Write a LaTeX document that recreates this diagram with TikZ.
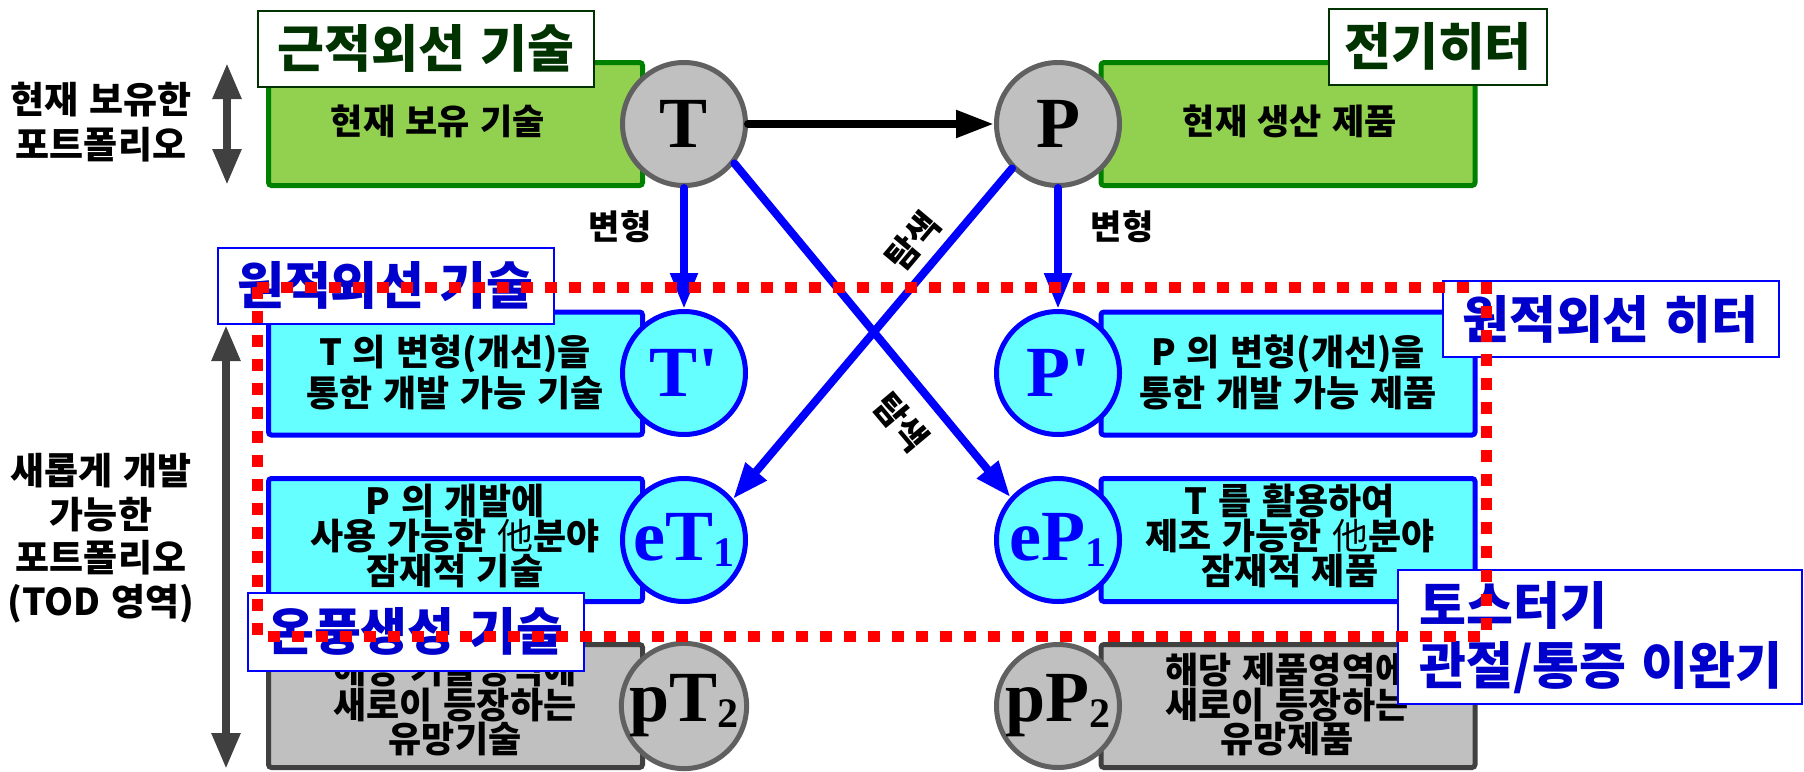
\documentclass[tikz,border=0pt]{standalone}
\usepackage{fontspec}
\usetikzlibrary{arrows.meta}
\setmainfont{Liberation Serif}
\newfontfamily\kr{Noto Sans CJK KR}[WordSpace=1.3]
\newfontfamily\tnr{Liberation Serif}

\definecolor{leaf}{HTML}{92D050}
\definecolor{leafedge}{HTML}{008000}
\definecolor{aqua}{HTML}{66FFFF}
\definecolor{silver}{HTML}{C0C0C0}
\definecolor{ringgray}{HTML}{606060}
\definecolor{boxgray}{HTML}{404040}
\definecolor{deepgreen}{HTML}{003300}
\definecolor{labelblue}{HTML}{0000CC}

\newcommand{\thin}{{\mdseries 他}}

\tikzset{
  panel/.style={line width=2.5pt, rounded corners=1.5pt, minimum width=187pt,
    minimum height=61.5pt, inner sep=0pt},
  gbox/.style={panel, draw=leafedge, fill=leaf},
  cbox/.style={panel, draw=blue, fill=aqua},
  sbox/.style={panel, draw=boxgray, fill=silver},
  ring/.style={circle, line width=2.5pt, minimum size=61.5pt, inner sep=0pt,
    font=\tnr\bfseries\fontsize{36}{36}\selectfont},
  gring/.style={ring, draw=ringgray, fill=silver, text=black},
  cring/.style={ring, draw=blue, fill=aqua, text=blue},
  headtag/.style={draw=deepgreen, fill=white, line width=1pt, text=deepgreen,
    minimum height=38pt, inner sep=0pt, font=\kr\bfseries\fontsize{25.5}{25.5}\selectfont},
  bluetag/.style={draw=blue, fill=white, line width=1pt, text=labelblue,
    minimum height=38pt, inner sep=0pt, font=\kr\bfseries\fontsize{25.5}{25.5}\selectfont},
  body/.style={align=center, inner sep=0pt, font=\kr\bfseries\fontsize{18}{20.5}\selectfont},
  body3/.style={align=center, inner sep=0pt, font=\kr\bfseries\fontsize{18}{17.5}\selectfont},
  body4/.style={align=center, inner sep=0pt, font=\kr\bfseries\fontsize{18}{17.25}\selectfont},
  side/.style={align=center, inner sep=0pt, font=\kr\bfseries\fontsize{18.5}{22.5}\selectfont},
  note/.style={inner sep=0pt, font=\kr\bfseries\fontsize{17}{17}\selectfont},
  flow/.style={draw=blue, line width=4pt, line cap=round,
    -{Triangle[length=18pt,width=13pt]}},
  push/.style={draw=black, line width=4pt, line cap=round,
    -{Triangle[length=19pt,width=13pt]}},
  span/.style={draw=boxgray, line width=4.2pt,
    {Triangle[length=18pt,width=13.5pt]}-{Triangle[length=18pt,width=13.5pt]}},
  reddots/.style={draw=red, line width=5.5pt, dash pattern=on 6pt off 6pt}
}

\begin{document}
\begin{tikzpicture}[x=0.5pt,y=-0.5pt]
\useasboundingbox (0,0) rectangle (1804,771);

% portfolio rows: boxes
\node[gbox] (bT)  at (455.5,124) {};
\node[gbox] (bP)  at (1288,124) {};
\node[cbox] (bTp) at (455.5,373.5) {};
\node[cbox] (bPp) at (1288,373.5) {};
\node[cbox] (beT) at (455.5,540) {};
\node[cbox] (beP) at (1288,540) {};
\node[sbox] (bpT) at (455.5,706) {};
\node[sbox] (bpP) at (1288,706) {};

% headings of the top row
\node[headtag, minimum width=168pt] (hT) at (426,48.5) {근적외선 기술};
\node[headtag, minimum width=109pt] (hP) at (1438,46.5) {전기히터};

% texts inside the boxes
\node[body, font=\kr\bfseries\fontsize{17.5}{17.5}\selectfont] (tT)  at (438,121) {현재 보유 기술};
\node[body, font=\kr\bfseries\fontsize{17.5}{17.5}\selectfont] (tP)  at (1290,121) {현재 생산 제품};
\node[body] (tTp) at (455,372) {T 의 변형(개선)을\\통한 개발 가능 기술};
\node[body] (tPp) at (1288,372) {P 의 변형(개선)을\\통한 개발 가능 제품};
\node[body3] (teT) at (455,536) {P 의 개발에\\사용 가능한 \thin 분야\\잠재적 기술};
\node[body3] (teP) at (1290,536) {T 를 활용하여\\제조 가능한 \thin 분야\\잠재적 제품};
\node[body4] (tpT) at (455,705) {해당 기술영역에\\새로이 등장하는\\유망기술};
\node[body4] (tpP) at (1287,705) {해당 제품영역에\\새로이 등장하는\\유망제품};

% circles
\node[gring] (T)   at (684,124) {T};
\node[gring] (P)   at (1058,124) {P};
\node[cring] (Tp)  at (684,373) {T\textquotesingle};
\node[cring] (Pp)  at (1058,373) {P\textquotesingle};
\node[cring] (eT1) at (684,540) {eT\raisebox{-3pt}{\fontsize{21}{21}\selectfont 1}};
\node[cring] (eP1) at (1058,540) {eP\raisebox{-3pt}{\fontsize{21}{21}\selectfont 1}};
\node[gring] (pT2) at (684,706) {pT\raisebox{-3pt}{\fontsize{21}{21}\selectfont 2}};
\node[gring] (pP2) at (1058,706) {pP\raisebox{-3pt}{\fontsize{21}{21}\selectfont 2}};

% connectors
\draw[push] (T.east) -- (P.west);
\draw[flow] (T.south) -- (Tp.north);
\draw[flow] (P.south) -- (Pp.north);
\draw[flow] (T.-38) -- (eP1.138);
\draw[flow] (P.224) -- (eT1.40);

\node[note] (m1) at (620,227) {변형};
\node[note] (m2) at (1122,227) {변형};
\node[note, rotate=50]  (s1) at (913,241) {탐색};
\node[note, rotate=-50] (s2) at (901,422) {탐색};

% portfolio ranges on the left
\coordinate (r1a) at (227,63);
\coordinate (r1b) at (227,185);
\coordinate (r2a) at (226,325);
\coordinate (r2b) at (226,769);
\draw[span] (r1a) -- (r1b);
\draw[span] (r2a) -- (r2b);
\node[side] (l1) at (101,122) {현재 보유한\\포트폴리오};
\node[side, font=\kr\bfseries\fontsize{18.5}{21.75}\selectfont] (l2) at (101,538)
  {새롭게 개발\\가능한\\포트폴리오\\(TOD 영역)};

% application tags
\node[bluetag, minimum width=168pt] (g1) at (385.5,285.5) {원적외선 기술};
\node[bluetag, minimum width=168pt] (g2) at (1610.5,319) {원적외선 히터};
\node[bluetag, minimum width=168pt, minimum height=39pt] (g3) at (415.5,631.5) {온풍생성 기술};
\node[draw=blue, fill=white, line width=1pt, minimum width=202pt, minimum height=67pt,
  inner sep=0pt] (g4) at (1599.5,637) {};
\node[anchor=west, align=left, inner sep=0pt, text=labelblue,
  font=\kr\bfseries\fontsize{25.5}{30}\selectfont] (g4t) at (1419,638)
  {토스터기\\관절/통증 이완기};

% TOD region
\draw[reddots] (257,287) rectangle (1486,636);
\end{tikzpicture}
\end{document}
